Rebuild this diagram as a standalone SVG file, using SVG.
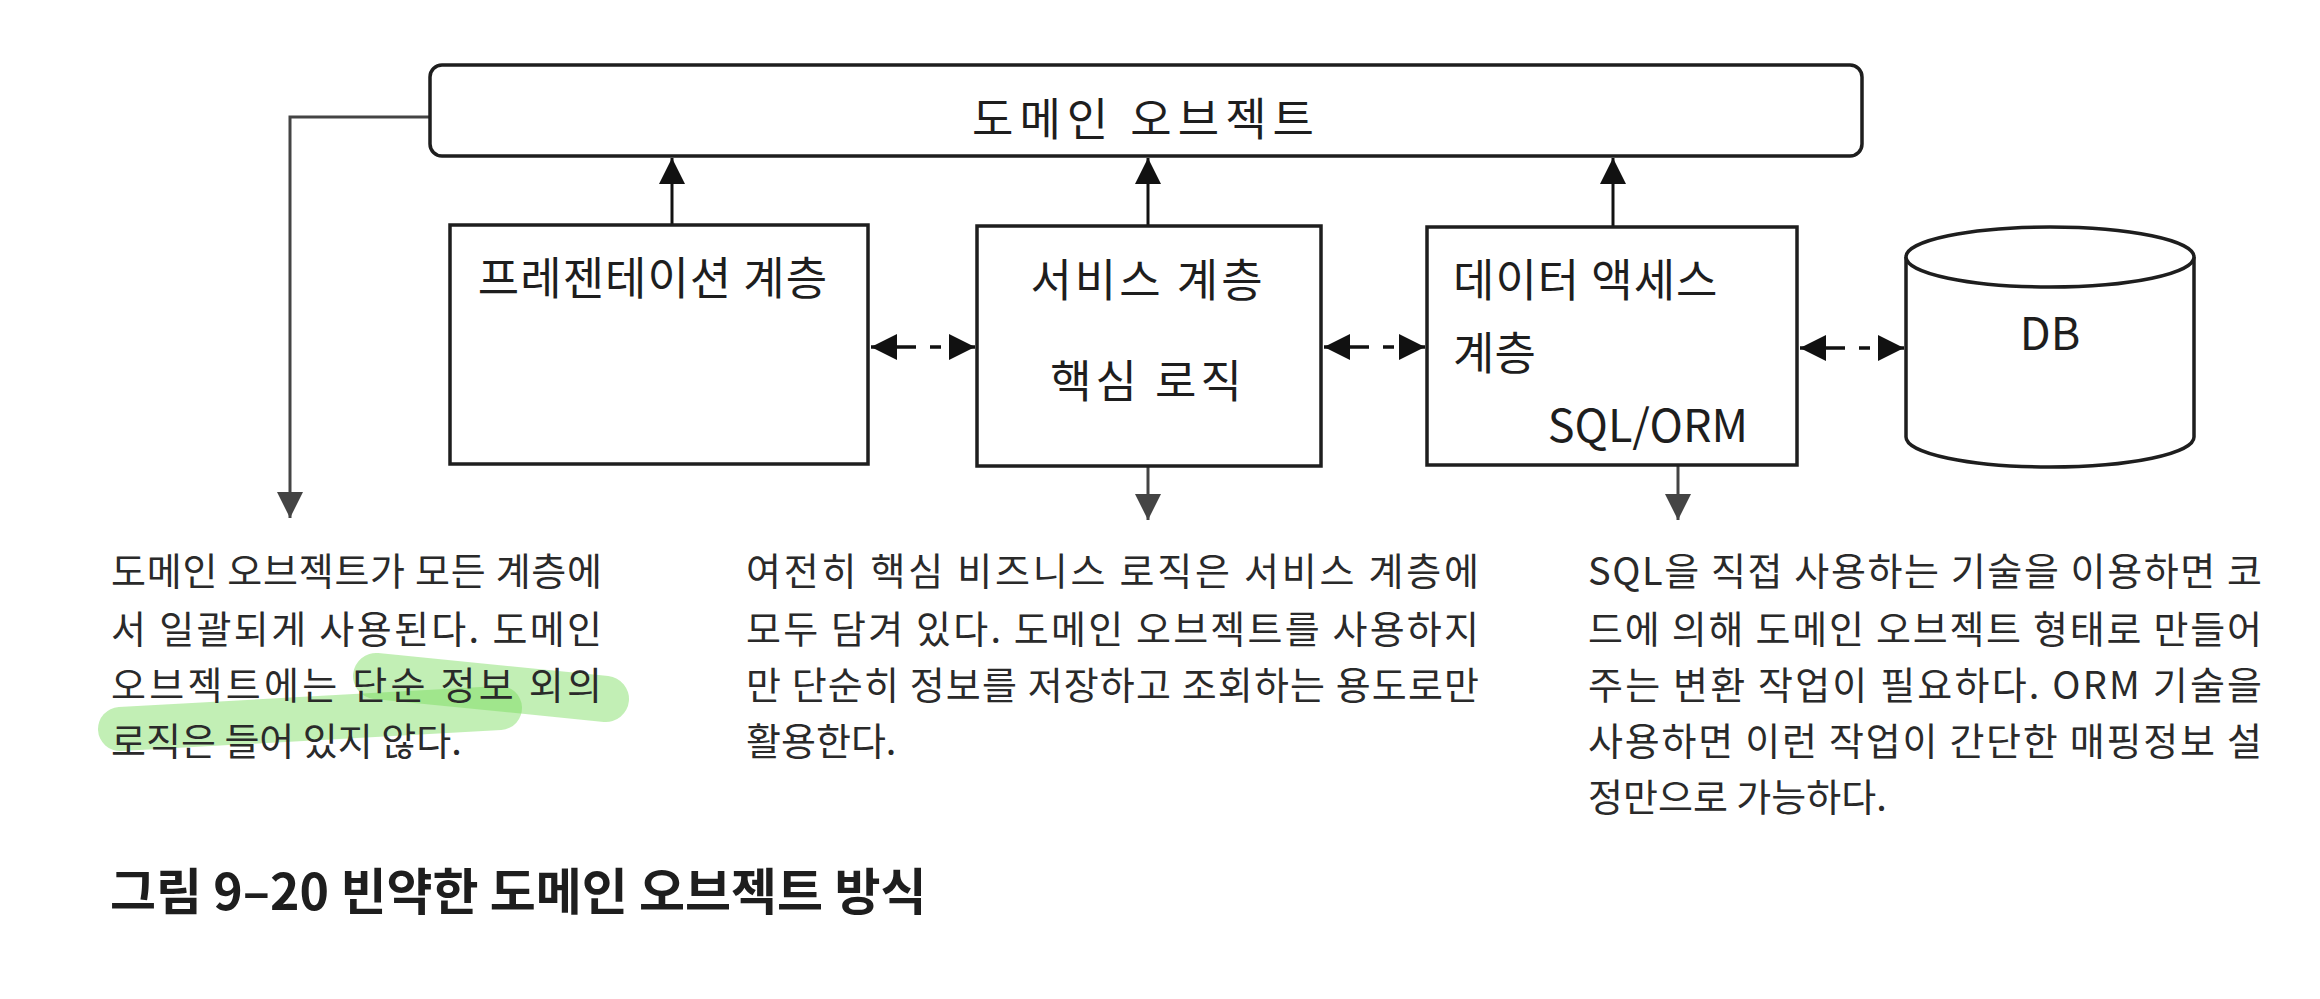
<svg xmlns="http://www.w3.org/2000/svg" width="2320" height="999" viewBox="0 0 2320 999">
<style>
  text { font-family: "Noto Sans CJK KR", "Noto Sans", sans-serif; fill: #1e1e1e; dominant-baseline: central; }
  .box { fill: #fff; stroke: #1e1e1e; stroke-width: 3.5; }
  .lbl { font-size: 45px; }
  .para { font-size: 38px; fill: #2a2a2a; }
  .cap { font-size: 50px; font-weight: bold; }
  .up { stroke: #111; stroke-width: 3; fill: none; }
  .down { stroke: #444; stroke-width: 3; fill: none; }
  .bi { stroke: #111; stroke-width: 3.5; fill: none; stroke-dasharray: 11 14 20 14; }
  .hl { stroke: rgb(120,220,90); stroke-opacity: 0.45; stroke-linecap: round; fill: none; }
</style>
<defs>
  <marker id="hBlack" viewBox="0 0 26 26" refX="26" refY="13" markerWidth="26" markerHeight="26" markerUnits="userSpaceOnUse" orient="auto-start-reverse">
    <path d="M0,0 L26,13 L0,26 Z" fill="#111"/>
  </marker>
  <marker id="hGray" viewBox="0 0 26 26" refX="26" refY="13" markerWidth="26" markerHeight="26" markerUnits="userSpaceOnUse" orient="auto">
    <path d="M0,0 L26,13 L0,26 Z" fill="#444"/>
  </marker>
</defs>

<rect width="2320" height="999" fill="#fff"/>

<!-- highlighter strokes -->
<g id="highlight">
  <path class="hl" stroke-width="46" d="M376,676 L606,699"/>
  <path class="hl" stroke-width="44" d="M120,729 L500,708"/>
</g>

<g id="connectors">
  <path class="down" d="M430,117 H290 V518" marker-end="url(#hGray)"/>
  <path class="up" d="M672,225 V158" marker-end="url(#hBlack)"/>
  <path class="up" d="M1148,226 V158" marker-end="url(#hBlack)"/>
  <path class="up" d="M1613,227 V158" marker-end="url(#hBlack)"/>
  <path class="down" d="M1148,466 V520" marker-end="url(#hGray)"/>
  <path class="down" d="M1678,465 V520" marker-end="url(#hGray)"/>
  <path class="bi" d="M871,347 H975" marker-start="url(#hBlack)" marker-end="url(#hBlack)"/>
  <path class="bi" d="M1324,347 H1425" marker-start="url(#hBlack)" marker-end="url(#hBlack)"/>
  <path class="bi" d="M1800,348 H1904" marker-start="url(#hBlack)" marker-end="url(#hBlack)"/>
</g>

<g id="domain">
  <rect class="box" x="430" y="65" width="1432" height="91" rx="12"/>
  <text class="lbl" x="1146" y="116" text-anchor="middle" font-size="46" letter-spacing="6">도메인 오브젝트</text>
</g>

<g id="presentation">
  <rect class="box" x="450" y="225" width="418" height="239"/>
  <text class="lbl" x="653" y="275" text-anchor="middle" letter-spacing="1">프레젠테이션 계층</text>
</g>

<g id="service">
  <rect class="box" x="977" y="226" width="344" height="240"/>
  <text class="lbl" x="1148" y="277" text-anchor="middle" letter-spacing="3">서비스 계층</text>
  <text class="lbl" x="1148" y="378" text-anchor="middle" letter-spacing="4">핵심 로직</text>
</g>

<g id="dataaccess">
  <rect class="box" x="1427" y="227" width="370" height="238"/>
  <text class="lbl" x="1453" y="277" letter-spacing="1">데이터 액세스</text>
  <text class="lbl" x="1453" y="350">계층</text>
  <text class="lbl" x="1748" y="422" text-anchor="end" font-size="44">SQL/ORM</text>
</g>

<g id="db">
  <path class="box" d="M1906,257 V437 A144,30 0 0 0 2194,437 V257"/>
  <ellipse class="box" cx="2050" cy="257" rx="144" ry="30"/>
  <text class="lbl" x="2050" y="330" text-anchor="middle" font-size="38">DB</text>
</g>

<g id="note-left">
  <text class="para" x="111" y="568" textLength="491" lengthAdjust="spacing">도메인 오브젝트가 모든 계층에</text>
  <text class="para" x="111" y="626" textLength="491" lengthAdjust="spacing">서 일괄되게 사용된다. 도메인</text>
  <text class="para" x="111" y="682" textLength="491" lengthAdjust="spacing">오브젝트에는 단순 정보 외의</text>
  <text class="para" x="111" y="738">로직은 들어 있지 않다.</text>
</g>

<g id="note-middle">
  <text class="para" x="746" y="568" textLength="733" lengthAdjust="spacing">여전히 핵심 비즈니스 로직은 서비스 계층에</text>
  <text class="para" x="746" y="626" textLength="733" lengthAdjust="spacing">모두 담겨 있다. 도메인 오브젝트를 사용하지</text>
  <text class="para" x="746" y="682" textLength="733" lengthAdjust="spacing">만 단순히 정보를 저장하고 조회하는 용도로만</text>
  <text class="para" x="746" y="738">활용한다.</text>
</g>

<g id="note-right">
  <text class="para" x="1588" y="568" textLength="674" lengthAdjust="spacing">SQL을 직접 사용하는 기술을 이용하면 코</text>
  <text class="para" x="1588" y="626" textLength="674" lengthAdjust="spacing">드에 의해 도메인 오브젝트 형태로 만들어</text>
  <text class="para" x="1588" y="682" textLength="674" lengthAdjust="spacing">주는 변환 작업이 필요하다. ORM 기술을</text>
  <text class="para" x="1588" y="738" textLength="674" lengthAdjust="spacing">사용하면 이런 작업이 간단한 매핑정보 설</text>
  <text class="para" x="1588" y="794">정만으로 가능하다.</text>
</g>

<g id="caption">
  <text class="cap" x="110" y="888">그림 9–20 빈약한 도메인 오브젝트 방식</text>
</g>
</svg>
